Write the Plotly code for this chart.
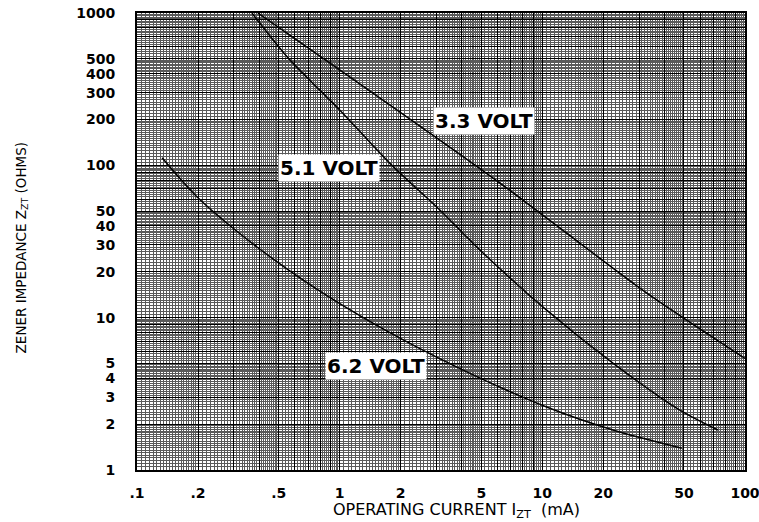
import numpy as np
import plotly.graph_objects as go

# ---- data (operating current mA, zener impedance ohms)
v33_current = [0.395, 1.0, 2.58, 6.18, 15.3, 32.8, 100]
v33_imped   = [1000, 423, 175, 76.5, 30.9, 14.5, 5.4]

v51_current = [0.369, 0.569, 1.0, 1.77, 3.12, 4.92, 10.5, 22.3, 47.7, 73.5]
v51_imped   = [1000, 491, 231, 103, 50.9, 27.8, 11.2, 5.03, 2.47, 1.83]

v62_current = [0.133, 0.198, 0.391, 0.738, 1.58, 3.79, 10.5, 22.3, 48.8]
v62_imped   = [112, 62, 29.1, 16.0, 8.67, 4.74, 2.59, 1.83, 1.39]

series_names = ["3.3 VOLT", "5.1 VOLT", "6.2 VOLT"]

x_tick_vals = [0.1, 0.2, 0.5, 1, 2, 5, 10, 20, 50, 100]
x_tick_text = [".1", ".2", ".5", "1", "2", "5", "10", "20", "50", "100"]
y_tick_vals = [1, 2, 3, 4, 5, 10, 20, 30, 40, 50, 100, 200, 300, 400, 500, 1000]
y_tick_text = ["1", "2", "3", "4", "5", "10", "20", "30", "40", "50",
               "100", "200", "300", "400", "500", "1000"]

x_title = "OPERATING CURRENT I<sub>ZT</sub>  (mA)"
y_title = "ZENER IMPEDANCE Z<sub>ZT</sub> (OHMS)"

# ---- grid-paper lines (axis configuration only)
def heavy_lines(decades):
    vals = []
    for d in decades:
        for m in range(1, 10):
            vals.append(round(m * 10.0 ** d, 10))
    vals.append(round(10.0 ** (decades[-1] + 1), 10))
    return vals

def light_lines(decades):
    vals = []
    for d in decades:
        base = 10.0 ** d
        vals += list(np.arange(1.0, 2.0, 0.05) * base)
        vals += list(np.arange(2.0, 5.0, 0.1) * base)
        vals += list(np.arange(5.0, 10.0, 0.2) * base)
    return vals

x_heavy = heavy_lines([-1, 0, 1])
y_heavy = heavy_lines([0, 1, 2])
x_light = light_lines([-1, 0, 1])
y_light = light_lines([0, 1, 2])

fig = go.Figure()
for xs, ys, nm in [(v33_current, v33_imped, series_names[0]),
                   (v51_current, v51_imped, series_names[1]),
                   (v62_current, v62_imped, series_names[2])]:
    fig.add_trace(go.Scatter(x=xs, y=ys, mode="lines", name=nm,
                             line=dict(color="black", width=1.5, shape="spline", smoothing=0.8),
                             hoverinfo="x+y+name"))
# empty trace that only anchors the overlay grid axes
fig.add_trace(go.Scatter(x=[], y=[], xaxis="x2", yaxis="y2", showlegend=False, hoverinfo="skip"))

label_font = dict(family="DejaVu Sans, sans-serif", size=20, color="black", weight="bold")
label_pos = [(0.712, 2.291), (-0.053, 1.982), (0.179, 0.682)]
for nm, (lx, ly) in zip(series_names, label_pos):
    fig.add_annotation(x=lx, y=ly, xref="x", yref="y", text=nm, showarrow=False,
                       font=label_font, bgcolor="white", borderpad=1)

fig.add_annotation(x=0.526, y=-0.088, xref="paper", yref="paper", text=x_title,
                   showarrow=False, xanchor="center", yanchor="middle",
                   font=dict(family="DejaVu Sans, sans-serif", size=16, color="black"))
fig.add_annotation(x=-0.19, y=0.486, xref="paper", yref="paper", text=y_title,
                   showarrow=False, textangle=-90, xanchor="center", yanchor="middle",
                   font=dict(family="DejaVu Sans, sans-serif", size=13.5, color="black"))

tick_font = dict(family="DejaVu Sans, sans-serif", size=14, color="black", weight="bold")

fig.update_layout(
    width=759, height=522,
    margin=dict(l=137, r=14, t=13, b=52),
    paper_bgcolor="white", plot_bgcolor="white",
    showlegend=False,
    xaxis=dict(type="log", range=[-1, 2], tickmode="array",
               tickvals=x_tick_vals, ticktext=x_tick_text,
               showgrid=True, gridcolor="#000000", gridwidth=1.2,
               minor=dict(tickmode="array", tickvals=x_light, showgrid=True,
                          gridcolor="#5a5a5a", gridwidth=1, ticks=""),
               ticks="outside", ticklen=9, tickcolor="rgba(0,0,0,0)",
               tickfont=tick_font, ticklabeloverflow="allow",
               showline=True, linecolor="black", linewidth=2, mirror=True,
               zeroline=False, automargin=False),
    yaxis=dict(type="log", range=[0, 3], tickmode="array",
               tickvals=y_tick_vals, ticktext=y_tick_text,
               showgrid=True, gridcolor="#000000", gridwidth=1.2,
               minor=dict(tickmode="array", tickvals=y_light, showgrid=True,
                          gridcolor="#5a5a5a", gridwidth=1, ticks=""),
               ticks="outside", ticklen=17, tickcolor="rgba(0,0,0,0)",
               tickfont=tick_font, ticklabeloverflow="allow",
               showline=True, linecolor="black", linewidth=2, mirror=True,
               zeroline=False, automargin=False),
    xaxis2=dict(type="log", range=[-1, 2], overlaying="x", anchor="y2",
                tickmode="array", tickvals=x_heavy, showticklabels=False, ticks="",
                showgrid=True, gridcolor="#000000", gridwidth=1.2,
                showline=False, zeroline=False, automargin=False),
    yaxis2=dict(type="log", range=[0, 3], overlaying="y", anchor="x2",
                tickmode="array", tickvals=y_heavy, showticklabels=False, ticks="",
                showgrid=True, gridcolor="#000000", gridwidth=1.2,
                showline=False, zeroline=False, automargin=False),
)

fig.write_html("out.html")
